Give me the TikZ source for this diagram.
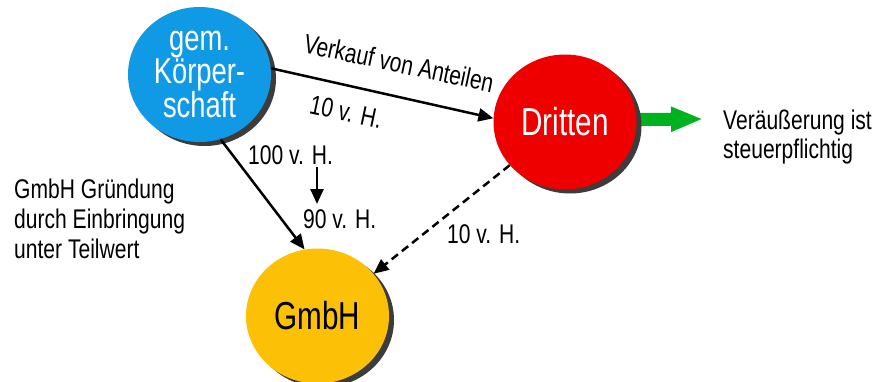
\documentclass[tikz,border=0pt]{standalone}
\usepackage{fontspec}
\setmainfont{Liberation Sans}[FakeStretch=0.78]
\newfontfamily\bigfont{Liberation Sans}[FakeStretch=0.76]
\usetikzlibrary{arrows.meta,shapes.geometric,shadows,backgrounds}

\definecolor{cblue}{RGB}{16,154,230}
\definecolor{cred}{RGB}{238,0,0}
\definecolor{cyellow}{RGB}{252,192,6}
\definecolor{cgreen}{RGB}{0,178,30}
\definecolor{shadowgray}{RGB}{60,60,60}

\tikzset{
  bubble/.style={ellipse, minimum width=143pt, minimum height=135pt, inner sep=0pt,
    draw=none, align=center,
    drop shadow={shadow xshift=5pt, shadow yshift=-4pt, fill=shadowgray, opacity=1}},
  bigtext/.style={font=\bigfont\fontsize{39}{30}\selectfont},
  label/.style={font=\fontsize{27}{29}\selectfont, inner sep=0pt},
  arr/.style={line width=2.5pt, -{Triangle[length=15pt,width=13pt]}},
  dasharr/.style={arr, dash pattern=on 8pt off 5pt}
}

\begin{document}
\begin{tikzpicture}[x=1pt, y=-1pt]
\useasboundingbox (0,0) rectangle (878,381);

% the three parties
\node[bubble, fill=cblue, text=white, font=\bigfont\fontsize{36}{30}\selectfont] (koerp) at (199.5,74.5) {gem.\\Körper-\\schaft};
\node[bubble, fill=cred, text=white, bigtext] (dritten) at (565,122) {Dritten};
\node[bubble, fill=cyellow, text=black, bigtext] (gmbh) at (317.5,316) {GmbH};

% sale of shares to a third party
\draw[arr] (koerp.5) -- (dritten.177);
\node[label, rotate=-12] (verkauf) at (399,63) {Verkauf von Anteilen};
\node[label, rotate=-12] (antTop) at (346,112) {10 v. H.};

% founding of the GmbH
\draw[arr] (koerp.-72) -- (gmbh.101);
\node[label, anchor=base west] (p100) at (248,164) {100 v. H.};
\node[label, anchor=base west] (p90) at (303,228) {90 v. H.};
\coordinate (redA) at (317,167);
\coordinate (redB) at (317,204);
\draw[arr] (redA) -- (redB);

% share held by the third party
\draw[dasharr] (dritten.218) -- (gmbh.37);
\node[label, anchor=base west] (p10) at (447,243) {10 v. H.};

% tax consequence
\begin{scope}[on background layer]
  \draw[cgreen, line width=13pt, -{Triangle[length=32pt,width=23pt]}] (dritten.2) -- (703,119);
\end{scope}
\node[label, anchor=north west, align=left] (steuer) at (723,110) {Veräußerung ist\\steuerpflichtig};

% note on the founding
\node[label, anchor=north west, align=left, font=\fontsize{27}{30}\selectfont] (gruendung) at (14,179) {GmbH Gründung\\durch Einbringung\\unter Teilwert};
\end{tikzpicture}
\end{document}
